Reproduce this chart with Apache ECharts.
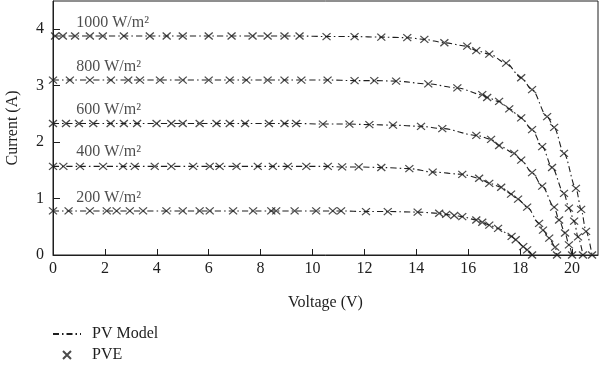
<!DOCTYPE html>
<html>
<head>
<meta charset="utf-8">
<script src="https://cdn.jsdelivr.net/npm/echarts@6/dist/echarts.min.js"></script>
<style>html,body{margin:0;padding:0;background:#fff}#c{width:600px;height:367px}</style>
</head>
<body>
<div id="c"></div>
<script>
// Voltage (V) / Current (A), per irradiance
var v1000 = [0.08,0.38,0.85,1.42,1.92,2.73,3.73,4.38,5.0,6.0,6.88,7.69,8.27,8.92,9.5,10.54,11.62,12.65,13.65,14.31,15.08,15.96,16.31,16.81,17.46,18.04,18.46,19.04,19.31,19.69,20.15,20.35,20.54,20.77];
var i1000 = [3.88,3.88,3.88,3.88,3.88,3.88,3.88,3.88,3.88,3.88,3.88,3.88,3.88,3.88,3.88,3.87,3.87,3.86,3.85,3.82,3.76,3.70,3.62,3.56,3.40,3.14,2.93,2.45,2.26,1.80,1.18,0.81,0.42,0];
var v800 = [0.0,0.65,1.42,2.23,2.9,3.35,4.12,5.0,6.0,6.81,7.45,8.27,8.92,9.57,10.58,11.62,12.38,13.22,14.46,15.58,16.54,16.73,17.19,17.58,18.04,18.46,18.85,19.23,19.69,19.88,20.08,20.23,20.42];
var i800 = [3.10,3.10,3.10,3.10,3.10,3.10,3.10,3.10,3.10,3.10,3.10,3.10,3.10,3.10,3.10,3.09,3.09,3.08,3.03,2.96,2.84,2.79,2.72,2.59,2.43,2.22,1.92,1.55,1.09,0.83,0.60,0.32,0];
var v600 = [0,0.5,1.0,1.55,2.22,2.73,3.24,3.99,4.56,5.0,5.65,6.3,6.81,7.4,8.32,8.92,9.37,10.4,11.42,12.19,13.1,14.18,15.0,16.31,16.88,17.19,17.77,18.04,18.46,18.85,19.31,19.5,19.73,19.88,20.0];
var i600 = [2.33,2.33,2.33,2.33,2.33,2.33,2.33,2.33,2.33,2.33,2.33,2.33,2.33,2.33,2.33,2.33,2.33,2.32,2.32,2.31,2.30,2.28,2.24,2.12,2.05,1.94,1.80,1.68,1.46,1.22,0.85,0.62,0.39,0.18,0];
var v400 = [0,0.4,1.04,1.93,2.7,3.15,3.92,4.56,5.4,6.04,6.42,7.07,7.89,8.47,9.05,9.76,10.59,11.14,11.78,12.65,13.73,14.63,15.77,16.42,16.81,17.27,17.65,17.92,18.27,18.73,18.88,19.12,19.35,19.42];
var i400 = [1.57,1.57,1.57,1.57,1.57,1.57,1.57,1.57,1.57,1.57,1.57,1.57,1.57,1.57,1.57,1.57,1.57,1.56,1.56,1.55,1.53,1.47,1.43,1.36,1.27,1.20,1.08,0.99,0.85,0.56,0.44,0.30,0.14,0];
var v200 = [0,0.6,1.42,2.07,2.45,2.96,3.47,4.37,5.0,5.65,6.04,6.94,7.71,8.41,8.6,9.31,10.14,10.78,11.1,12.06,12.9,14.05,14.88,15.15,15.46,15.77,16.31,16.54,16.81,17.15,17.67,17.83,18.12,18.27,18.46];
var i200 = [0.78,0.78,0.78,0.78,0.78,0.78,0.78,0.78,0.78,0.78,0.78,0.78,0.78,0.78,0.78,0.78,0.78,0.78,0.78,0.77,0.77,0.76,0.74,0.72,0.70,0.68,0.62,0.58,0.53,0.47,0.33,0.27,0.15,0.09,0];

var curveLabels = ['1000 W/m\u00b2','800 W/m\u00b2','600 W/m\u00b2','400 W/m\u00b2','200 W/m\u00b2'];
var labelV = [0.7,0.7,0.7,0.7,0.7];
var labelI = [4.11,3.33,2.57,1.82,1.02];

var curves = [[v1000,i1000],[v800,i800],[v600,i600],[v400,i400],[v200,i200]];
var FONT = "'Liberation Serif','Times New Roman',serif";
var INK = '#1e1e1e';

function pairs(v, i){ var out=[]; for (var k=0;k<v.length;k++) out.push([v[k], i[k]]); return out; }

var series = [];
curves.forEach(function(c){
  series.push({
    name:'PV Model', type:'line', data:pairs(c[0],c[1]), symbol:'none', showSymbol:false,
    smooth:0.3, smoothMonotone:'x',
    lineStyle:{color:INK, width:1.1, type:[6,3,1.5,3]}, itemStyle:{color:INK},
    z:2, silent:true
  });
});
curves.forEach(function(c){
  series.push({
    name:'PVE', type:'scatter', data:pairs(c[0],c[1]),
    symbol:'path://M0,0L10,10M10,0L0,10', symbolSize:[8,7],
    itemStyle:{color:'rgba(0,0,0,0)', borderColor:INK, borderWidth:1.2},
    z:3, silent:true
  });
});
var lblData = [];
for (var k=0;k<curveLabels.length;k++) lblData.push({value:[labelV[k], labelI[k]], name:curveLabels[k]});
series.push({
  name:'labels', type:'scatter', data:lblData, symbolSize:0, silent:true,
  label:{show:true, position:'right', distance:5, formatter:function(p){return p.name;},
    color:INK, fontFamily:FONT, fontSize:16}
});

var chart = echarts.init(document.getElementById('c'), null, {renderer:'canvas'});
chart.setOption({
  animation:false,
  backgroundColor:'#fff',
  grid:{left:53, right:2, top:1, bottom:112, show:true, borderColor:INK, borderWidth:1, containLabel:false, outerBoundsMode:'none'},
  xAxis:{
    type:'value', min:0, max:21, interval:2,
    name:'Voltage (V)', nameLocation:'middle', nameGap:40,
    nameTextStyle:{fontFamily:FONT, fontSize:16, color:INK},
    axisLine:{lineStyle:{color:INK, width:1}},
    axisTick:{inside:true, length:6, lineStyle:{color:INK}},
    axisLabel:{fontFamily:FONT, fontSize:16, color:INK, margin:6, showMaxLabel:false},
    splitLine:{show:false}
  },
  yAxis:{
    type:'value', min:0, max:4.5, interval:1,
    name:'Current (A)', nameLocation:'middle', nameGap:32,
    nameTextStyle:{fontFamily:FONT, fontSize:16, color:INK},
    axisLine:{lineStyle:{color:INK, width:1}},
    axisTick:{inside:true, length:7, lineStyle:{color:INK}},
    axisLabel:{fontFamily:FONT, fontSize:16, color:INK, margin:9, showMaxLabel:false},
    splitLine:{show:false}
  },
  legend:{
    data:[{name:'PV Model', itemStyle:{opacity:0}}, 'PVE'], orient:'vertical', left:52, top:326,
    padding:0, height:44,
    itemWidth:28, itemHeight:8, itemGap:5,
    textStyle:{fontFamily:FONT, fontSize:16, color:INK, padding:[0,0,0,6]},
    selectedMode:false
  },
  series:series
});
</script>
</body>
</html>
